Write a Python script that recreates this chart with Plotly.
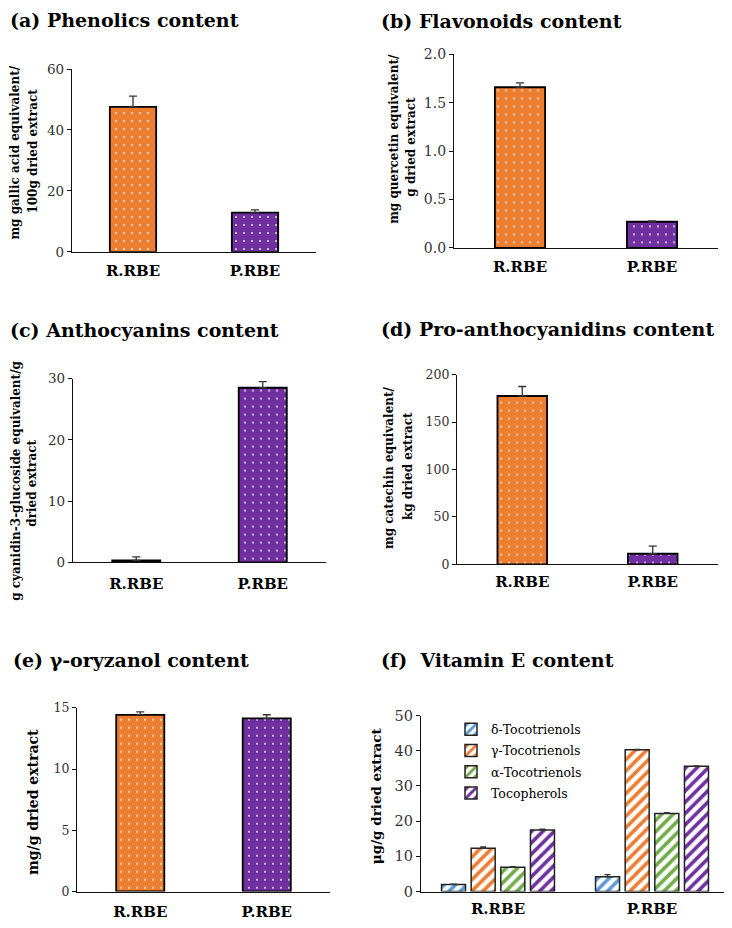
import plotly.graph_objects as go

# ---------------- data ----------------
categories = ["R.RBE", "P.RBE"]

phenolics = [47.6, 12.9]
phenolics_err = [3.5, 0.9]

flavonoids = [1.66, 0.27]
flavonoids_err = [0.045, 0.01]

anthocyanins = [0.3, 28.5]
anthocyanins_err = [0.6, 1.0]

proanthocyanidins = [177.5, 11.1]
proanthocyanidins_err = [10.0, 8.0]

oryzanol = [14.42, 14.13]
oryzanol_err = [0.25, 0.3]

vitE_names = ["δ-Tocotrienols", "γ-Tocotrienols", "α-Tocotrienols", "Tocopherols"]
vitE_delta = [2.0, 4.2]
vitE_delta_err = [0.1, 0.6]
vitE_gamma = [12.3, 40.3]
vitE_gamma_err = [0.4, 0.1]
vitE_alpha = [6.9, 22.2]
vitE_alpha_err = [0.15, 0.2]
vitE_toco = [17.5, 35.6]
vitE_toco_err = [0.2, 0.1]

bar_colors = ["#ED7D31", "#7030A0"]
vitE_colors = ["#5B9BD5", "#ED7D31", "#70AD47", "#7030A0"]

SERIF = "DejaVu Serif"
# the page body has an 8px margin, so the figure is offset by 8px
PAGE_OFF = 8
W, H = 724, 920


def px_x(x):
    return (x - PAGE_OFF) / W


def px_y(y):
    return 1 - (y - PAGE_OFF) / H


fig = go.Figure()

single_panels = [
    (phenolics, phenolics_err, 1),
    (flavonoids, flavonoids_err, 2),
    (anthocyanins, anthocyanins_err, 3),
    (proanthocyanidins, proanthocyanidins_err, 4),
    (oryzanol, oryzanol_err, 5),
]

for vals, errs, i in single_panels:
    sfx = "" if i == 1 else str(i)
    for j, cat in enumerate(categories):
        fig.add_trace(go.Bar(
            x=[cat], y=[vals[j]], width=0.38, offset=-0.19,
            xaxis="x" + sfx, yaxis="y" + sfx,
            marker=dict(color=bar_colors[j], line=dict(color="black", width=1.8),
                        pattern=dict(shape=".", fillmode="overlay", fgcolor="white",
                                     fgopacity=0.85, size=8, solidity=0.05)),
            error_y=dict(type="data", array=[errs[j]], arrayminus=[0], symmetric=False,
                         color="#333", thickness=1.3, width=4),
            showlegend=False,
        ))

vitE_series = [
    (vitE_delta, vitE_delta_err),
    (vitE_gamma, vitE_gamma_err),
    (vitE_alpha, vitE_alpha_err),
    (vitE_toco, vitE_toco_err),
]
for name, color, (vals, errs) in zip(vitE_names, vitE_colors, vitE_series):
    fig.add_trace(go.Bar(
        x=categories, y=vals, name=name, legendgroup=name,
        xaxis="x6", yaxis="y6",
        marker=dict(color="white", line=dict(color="#222", width=1.5),
                    pattern=dict(shape="/", fillmode="replace", fgcolor=color,
                                 bgcolor="white", size=8, solidity=0.45)),
        error_y=dict(type="data", array=errs, arrayminus=[0, 0], symmetric=False,
                     color="#333", thickness=1.3, width=3),
        showlegend=True,
    ))

# panel geometry (screen pixels): x0, x1, ytop, ybottom
panels = {
    1: (72, 316, 62, 248),
    2: (454, 718, 47, 244),
    3: (73, 326, 377, 564),
    4: (457, 718, 373, 566),
    5: (77, 330, 712, 899),
    6: (421, 729, 720, 899),
}
y_ranges = {1: [0, 60], 2: [0, 2.0], 3: [0, 30], 4: [0, 200], 5: [0, 15], 6: [0, 50]}
y_dticks = {1: 20, 2: 0.5, 3: 10, 4: 50, 5: 5, 6: 10}
y_tickfmt = {1: "d", 2: ".1f", 3: "d", 4: "d", 5: "d", 6: "d"}
y_tickfs = {1: 13.5, 2: 14, 3: 13.5, 4: 12.5, 5: 12.5, 6: 14.5}
x_standoff = {1: 5, 2: 5, 3: 7, 4: 4, 5: 6, 6: 3}

layout_axes = {}
for i, (x0, x1, yt, yb) in panels.items():
    sfx = "" if i == 1 else str(i)
    layout_axes["xaxis" + sfx] = dict(
        domain=[px_x(x0), min(1.0, px_x(x1))], anchor="y" + sfx,
        type="category", range=[-0.5, 1.5],
        showline=True, linecolor="#111", linewidth=1.4,
        ticks="", showgrid=False, zeroline=False,
        tickfont=dict(family=SERIF, size=15, color="black", weight="bold"),
        ticklabelstandoff=x_standoff[i],
    )
    layout_axes["yaxis" + sfx] = dict(
        domain=[max(0.0, px_y(yb)), min(1.0, px_y(yt))], anchor="x" + sfx,
        range=y_ranges[i], dtick=y_dticks[i], tick0=0, tickformat=y_tickfmt[i],
        showline=True, linecolor="#111", linewidth=1.2,
        ticks="outside", ticklen=4, tickcolor="#111", tickwidth=1,
        showgrid=False, zeroline=False,
        tickfont=dict(family=SERIF, size=y_tickfs[i], color="#333"),
    )

NB = "\u00a0"
titles = [
    ("(a)" + NB + "Phenolics content", 10, 12),
    ("(b)" + NB + "Flavonoids content", 381, 13),
    ("(c)" + NB + "Anthocyanins content", 10, 328),
    ("(d)" + NB + "Pro-anthocyanidins content", 381, 327),
    ("(e)" + NB + "γ-oryzanol content", 13, 663),
    ("(f)" + NB + NB + "Vitamin E content", 381, 663),
]
annotations = []
for txt, x, y in titles:
    annotations.append(dict(
        text=txt, x=px_x(max(PAGE_OFF, x - 2)), y=px_y(y), xref="paper", yref="paper",
        xanchor="left", yanchor="middle", showarrow=False,
        font=dict(family=SERIF, size=19, color="black", weight="bold"),
    ))

# y-axis titles, one annotation per line (screen x, screen y centre)
ytitles = [
    ("mg gallic acid equivalent/", 15, 147, 12),
    ("100g dried extract", 33, 146, 12),
    ("mg quercetin equivalent/", 394, 133, 12),
    ("g dried extract", 411, 141, 12),
    ("g cyanidin-3-glucoside equivalent/g", 16, 481, 12),
    ("dried extract", 32, 484, 12),
    ("mg catechin equivalent/", 389, 468, 12),
    ("kg dried extract", 408, 466, 12),
    ("mg/g dried extract", 33, 808, 14),
    ("μg/g dried extract", 376, 802, 13.5),
]
for txt, x, y, fs in ytitles:
    annotations.append(dict(
        text=txt, x=px_x(x), y=px_y(y), xref="paper", yref="paper",
        xanchor="center", yanchor="middle", showarrow=False, textangle=-90,
        font=dict(family=SERIF, size=fs, color="black", weight="bold"),
    ))

fig.update_layout(
    width=W, height=H,
    margin=dict(l=0, r=0, t=0, b=0),
    paper_bgcolor="white", plot_bgcolor="white",
    barmode="group", bargap=0.23, bargroupgap=0.19,
    annotations=annotations,
    legend=dict(
        x=px_x(451), y=px_y(719), xanchor="left", yanchor="top",
        bgcolor="rgba(0,0,0,0)", borderwidth=0,
        font=dict(family=SERIF, size=12.5, color="black"),
        itemwidth=30, tracegroupgap=2,
    ),
    **layout_axes,
)

fig.write_html("out.html")
